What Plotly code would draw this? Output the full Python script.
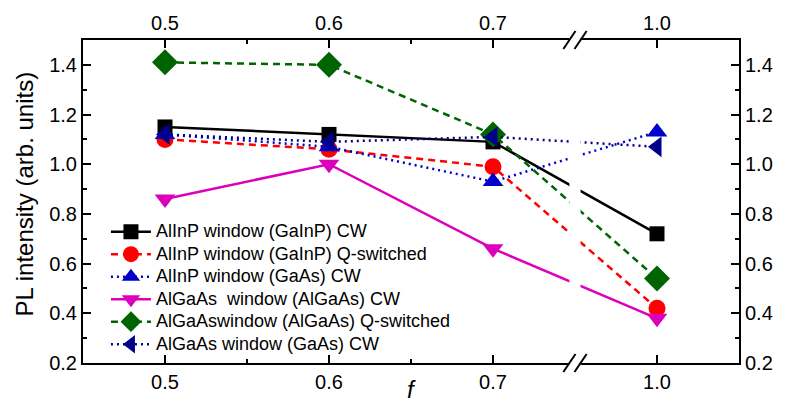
import plotly.graph_objects as go

# ---- data ----
f_values = [0.5, 0.6, 0.7, 1.0]
tick_labels = ["0.5", "0.6", "0.7", "1.0"]

alinp_gainp_cw = [1.15, 1.12, 1.09, 0.72]
alinp_gainp_qs = [1.10, 1.06, 0.99, 0.42]
alinp_gaas_cw = [1.12, 1.07, 0.93, 1.13]
algaas_algaas_cw = [0.86, 1.00, 0.66, 0.38]
algaas_algaas_qs = [1.41, 1.40, 1.12, 0.54]
algaas_gaas_cw = [1.12, 1.09, 1.11, 1.07]

names = [
    "AlInP window (GaInP) CW",
    "AlInP window (GaInP) Q-switched",
    "AlInP window (GaAs) CW",
    "AlGaAs  window (AlGaAs) CW",
    "AlGaAswindow (AlGaAs) Q-switched",
    "AlGaAs window (GaAs) CW",
]
series = [alinp_gainp_cw, alinp_gainp_qs, alinp_gaas_cw,
          algaas_algaas_cw, algaas_algaas_qs, algaas_gaas_cw]
colors = ["#000000", "#FF0000", "#0000CC", "#DD00BB", "#006400", "#00008B"]
dashes = ["solid", "7px,5px", "2px,4px", "solid", "7px,5px", "2px,4px"]
symbols = ["square", "circle", "triangle-up", "triangle-down", "diamond", "triangle-left"]
sizes = [15, 17, 18, 18, 20, 18]

# broken x-axis: the interval 0.75..0.95 is cut out
BREAK_LO, BREAK_HI = 0.75, 0.95


def axis_pos(f):
    return f if f <= BREAK_LO else f - (BREAK_HI - BREAK_LO)


xpos = [axis_pos(f) for f in f_values]
break_pos = axis_pos(BREAK_LO)

FONT = "Arial, Liberation Sans, sans-serif"

fig = go.Figure()
for name, ys, c, d, s, sz in zip(names, series, colors, dashes, symbols, sizes):
    fig.add_trace(go.Scatter(
        x=xpos, y=ys, name='<span style="font-size:18px">%s</span>' % name,
        mode="lines+markers",
        line=dict(color=c, width=2.5, dash=d),
        marker=dict(symbol=s, size=sz, color=c),
    ))

# invisible trace to activate the mirrored top/right axes
fig.add_trace(go.Scatter(x=xpos, y=series[0], xaxis="x2", yaxis="y2",
                         mode="markers", marker=dict(opacity=0),
                         showlegend=False, hoverinfo="skip"))

axis_common = dict(showline=True, linecolor="black", linewidth=2,
                   ticks="inside", ticklen=8, tickwidth=2, tickcolor="black",
                   showgrid=False, zeroline=False,
                   tickfont=dict(family=FONT, size=20, color="black"))

yticks = [0.2, 0.4, 0.6, 0.8, 1.0, 1.2, 1.4]
yticktext = ["0.2", "0.4", "0.6", "0.8", "1.0", "1.2", "1.4"]
yminor = dict(tickmode="array", tickvals=[0.3, 0.5, 0.7, 0.9, 1.1, 1.3],
              ticks="inside", ticklen=4, tickwidth=2, tickcolor="black")
xminor = dict(tickmode="array", tickvals=[0.55, 0.65], ticks="inside",
              ticklen=4, tickwidth=2, tickcolor="black")

fig.update_layout(
    width=785, height=405,
    margin=dict(l=83, r=44, t=39, b=38),
    plot_bgcolor="white", paper_bgcolor="white",
    font=dict(family=FONT, color="black"),
    xaxis=dict(range=[0.45, 0.85], tickmode="array", tickvals=xpos,
               ticktext=tick_labels, minor=xminor, **axis_common),
    xaxis2=dict(range=[0.45, 0.85], overlaying="x", side="top", matches="x",
                tickmode="array", tickvals=xpos, ticktext=tick_labels,
                minor=xminor, **axis_common),
    yaxis=dict(range=[0.2, 1.5], tickmode="array", tickvals=yticks,
               ticktext=yticktext, minor=yminor, **axis_common),
    yaxis2=dict(range=[0.2, 1.5], overlaying="y", side="right", matches="y",
                tickmode="array", tickvals=yticks, ticktext=yticktext,
                minor=yminor, **axis_common),
    legend=dict(x=0.035, y=0.457, xanchor="left", yanchor="top",
                bgcolor="rgba(0,0,0,0)", borderwidth=0,
                font=dict(family=FONT, size=15, color="black"),
                itemwidth=40, tracegroupgap=0),
    showlegend=True,
)

# y-axis title
fig.add_annotation(text="PL intensity (arb. units)", xref="paper", yref="paper",
                   x=-0.09, y=0.525, xanchor="center", yanchor="middle",
                   textangle=-90, showarrow=False,
                   font=dict(family=FONT, size=24, color="black"))

# axis break: white gap through lines and axes, plus slash marks
gap = 0.0034
fig.add_shape(type="rect", xref="x", yref="paper",
              x0=break_pos - gap, x1=break_pos + gap, y0=-0.04, y1=1.04,
              fillcolor="white", line=dict(width=0), layer="above")
dx, dy = 0.0037, 0.028
for yc in (0.0, 1.0):
    for xc in (break_pos - gap, break_pos + gap):
        fig.add_shape(type="line", xref="x", yref="paper",
                      x0=xc - dx, x1=xc + dx, y0=yc - dy, y1=yc + dy,
                      line=dict(color="black", width=2), layer="above")

fig.add_annotation(text="<i>f</i>", xref="x", yref="paper", x=0.65, y=-0.035,
                   yanchor="top", showarrow=False,
                   font=dict(family=FONT, size=24, color="black"))

fig.write_html("out.html")
